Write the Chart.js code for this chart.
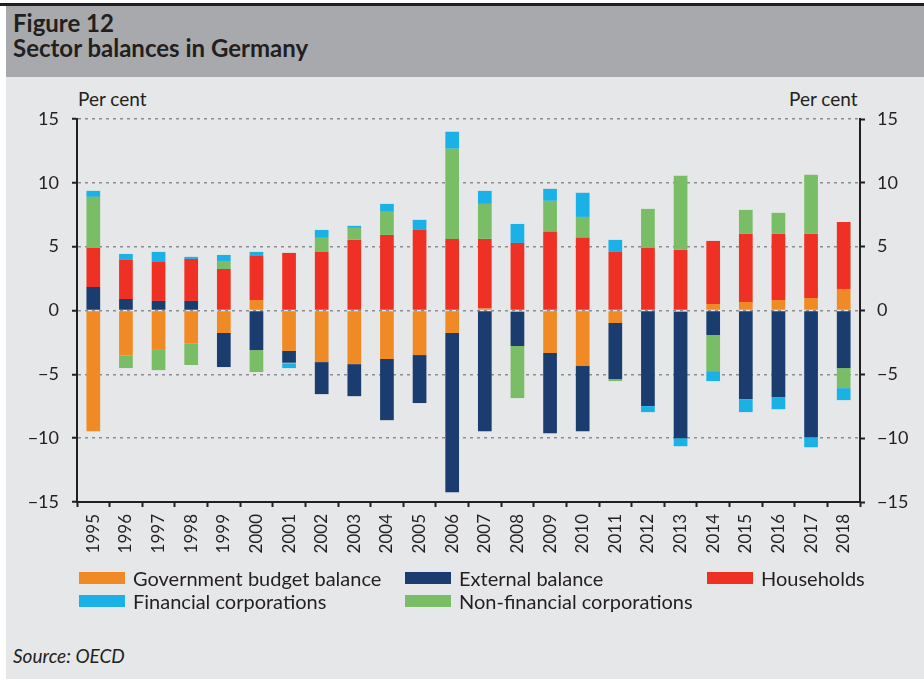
<!DOCTYPE html>
<html>
<head>
<meta charset="utf-8">
<script src="https://cdn.jsdelivr.net/npm/chart.js@4"></script>
<style>
  html, body { margin: 0; padding: 0; background: #ffffff; }
  body { width: 924px; height: 683px; position: relative; overflow: hidden; font-family: 'Lato', sans-serif; color: #231f20; }
  .topline { position: absolute; left: 0; top: 3px; width: 924px; height: 3px; background: #231f20; }
  .header { position: absolute; left: 6px; top: 6px; width: 918px; height: 71px; background: #a7a9ac; }
  .panel { position: absolute; left: 6px; top: 77px; width: 918px; height: 602px; background: #e6e7e8; }
  .title { position: absolute; left: 13px; font-weight: 700; font-size: 24px; line-height: 24px; white-space: nowrap; }
  .unit { position: absolute; font-size: 19px; line-height: 19px; white-space: nowrap; }
  #chartBox { position: absolute; left: 6px; top: 77px; width: 918px; height: 490px; }
  .legend { position: absolute; left: 0; top: 0; }
  .item { position: absolute; display: flex; align-items: center; height: 20px; font-size: 20px; line-height: 20px; white-space: nowrap; }
  .swatch { width: 46px; height: 12px; margin-right: 8px; }
  .source { position: absolute; left: 13px; top: 646px; font-size: 19px; line-height: 19px; font-style: italic; }
</style>
</head>
<body>
<div class="topline"></div>
<div class="header"></div>
<div class="panel"></div>
<div class="title" style="top:11px">Figure 12</div>
<div class="title" style="top:36px">Sector balances in Germany</div>
<div class="unit" style="left:78px; top:89px">Per cent</div>
<div class="unit" style="left:789px; top:89px">Per cent</div>
<div id="chartBox"><canvas id="chart"></canvas></div>
<div class="legend" id="legend"></div>
<div class="source">Source: OECD</div>

<script>
const years = ['1995', '1996', '1997', '1998', '1999', '2000', '2001', '2002', '2003', '2004', '2005', '2006',
  '2007', '2008', '2009', '2010', '2011', '2012', '2013', '2014', '2015', '2016', '2017', '2018']

const govBalance      = [-9.45, -3.54, -3.02, -2.6, -1.76, 0.82, -3.17, -4.04, -4.2, -3.8, -3.49, -1.76,
  0.15, -0.1, -3.33, -4.35, -0.98, 0, -0.1, 0.51, 0.67, 0.82, 0.98, 1.69]
const externalBalance = [1.84, 0.9, 0.75, 0.75, -2.67, -3.1, -0.92, -2.51, -2.51, -4.79, -3.76, -12.48,
  -9.45, -2.68, -6.28, -5.1, -4.39, -7.49, -9.9, -1.92, -6.94, -6.78, -9.92, -4.51]
const households      = [3.06, 3.06, 3.05, 3.29, 3.25, 3.45, 4.51, 4.59, 5.53, 5.92, 6.31, 5.61,
  5.46, 5.29, 6.16, 5.69, 4.59, 4.9, 4.75, 4.94, 5.33, 5.18, 5.02, 5.25]
const nonFinancial    = [4.0, -0.97, -1.65, -1.67, 0.63, -1.72, -0.05, 1.1, 0.94, 1.81, 0, 7.06,
  2.74, -4.08, 2.43, 1.64, -0.16, 3.06, 5.8, -2.83, 1.88, 1.65, 4.63, -1.57]
const financial       = [0.47, 0.47, 0.79, 0.16, 0.47, 0.32, -0.37, 0.62, 0.16, 0.62, 0.79, 1.33,
  1.02, 1.49, 0.94, 1.89, 0.94, -0.47, -0.63, -0.78, -1.02, -0.95, -0.79, -0.94]

const yTicks = [-15, -10, -5, 0, 5, 10, 15]

const COLORS = {
  gov:      '#f08a24',
  external: '#1b3c6e',
  house:    '#ee3124',
  financial:'#1ab1e6',
  nonfin:   '#79bd66',
}

const INK = '#231f20'

// stacking order (bottom-up) differs from the legend order
const series = [
  { key: 'gov',       label: 'Government budget balance',  data: govBalance },
  { key: 'external',  label: 'External balance',           data: externalBalance },
  { key: 'house',     label: 'Households',                 data: households },
  { key: 'nonfin',    label: 'Non-financial corporations', data: nonFinancial },
  { key: 'financial', label: 'Financial corporations',     data: financial },
]

// legend order and positions as in the figure (3 columns)
const legendOrder = ['gov', 'external', 'house', 'financial', 'nonfin']
const legendCols = [79, 405, 707]
const legendRows = [568, 591]

Chart.defaults.font.family = "'Lato', sans-serif"
Chart.defaults.font.size = 18
Chart.defaults.color = INK
Chart.defaults.animation = false

const fmt = v => v < 0 ? '\u2212' + Math.abs(v) : String(v)

const yAxisBase = {
  min: -15,
  max: 15,
  stacked: true,
  afterBuildTicks: axis => { axis.ticks = yTicks.map(v => ({ value: v })) },
  border: { display: true, color: INK, width: 2, dash: [3, 4] },
}

new Chart(document.getElementById('chart'), {
  type: 'bar',
  data: {
    labels: years,
    datasets: series.map(s => ({
      label: s.label,
      data: s.data,
      backgroundColor: COLORS[s.key],
      borderWidth: 0,
      barPercentage: 0.42,
      categoryPercentage: 1,
    }))
  },
  options: {
    responsive: true,
    maintainAspectRatio: false,
    layout: { padding: { top: 42, left: 0, right: 0, bottom: 0 } },
    plugins: { legend: { display: false }, tooltip: { enabled: false } },
    scales: {
      x: {
        stacked: true,
        border: { display: true, color: INK, width: 2 },
        grid: { offset: true, drawOnChartArea: false, tickLength: 5, tickColor: INK, tickWidth: 2 },
        ticks: { minRotation: 90, maxRotation: 90, padding: 7, font: { size: 17 } },
        afterFit: axis => { axis.height = 65 },
      },
      y: {
        ...yAxisBase,
        position: 'left',
        grid: { color: '#8d8e90', lineWidth: 1.5, tickLength: 5, tickColor: INK, tickWidth: 2 },
        ticks: { padding: 13, callback: fmt },
        afterFit: axis => { axis.width = 71 },
      },
      y2: {
        ...yAxisBase,
        position: 'right',
        stacked: false,
        grid: { drawOnChartArea: false, tickLength: 5, tickColor: INK, tickWidth: 2 },
        ticks: { padding: 12, callback: fmt },
        afterFit: axis => { axis.width = 64 },
      },
    }
  }
})

// HTML legend
const legend = document.getElementById('legend')
legendOrder.forEach((key, i) => {
  const s = series.find(d => d.key === key)
  const el = document.createElement('div')
  el.className = 'item'
  el.style.left = legendCols[i % 3] + 'px'
  el.style.top = legendRows[Math.floor(i / 3)] + 'px'
  el.innerHTML = `<span class="swatch" style="background:${COLORS[key]}"></span><span>${s.label}</span>`
  legend.appendChild(el)
})
</script>
</body>
</html>
